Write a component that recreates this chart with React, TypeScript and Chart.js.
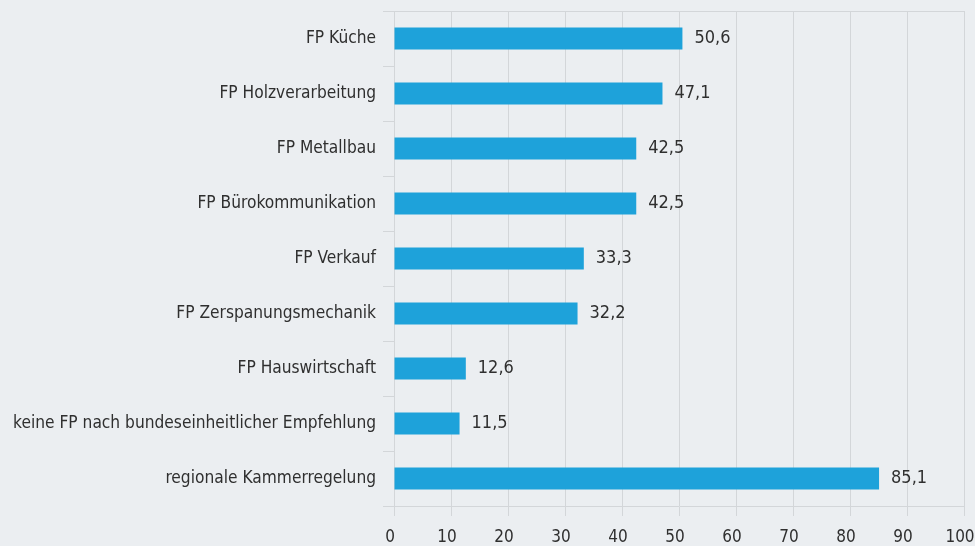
import React, { useEffect, useRef } from "react";
import { Chart, registerables } from "chart.js";

Chart.register(...registerables);

const categories = [
  "FP Küche",
  "FP Holzverarbeitung",
  "FP Metallbau",
  "FP Bürokommunikation",
  "FP Verkauf",
  "FP Zerspanungsmechanik",
  "FP Hauswirtschaft",
  "keine FP nach bundeseinheitlicher Empfehlung",
  "regionale Kammerregelung",
];
const values = [50.6, 47.1, 42.5, 42.5, 33.3, 32.2, 12.6, 11.5, 85.1];
const xTicks = [0, 10, 20, 30, 40, 50, 60, 70, 80, 90, 100];

const FONT = "'DejaVu Sans Condensed', 'Liberation Sans', sans-serif";
const TEXT = "#2f2f2f";
const GRID = "#d3d6d9";
const BG = "#ebeef1";
const BAR = "#1ea2da";

const valueLabels = {
  id: "valueLabels",
  afterDatasetsDraw(chart: any) {
    const { ctx } = chart;
    const meta = chart.getDatasetMeta(0);
    ctx.save();
    ctx.font = `18px ${FONT}`;
    ctx.fillStyle = TEXT;
    ctx.textAlign = "left";
    ctx.textBaseline = "middle";
    meta.data.forEach((el: any, i: number) => {
      const v = values[i];
      ctx.fillText(v.toFixed(1).replace(".", ","), el.x + 12, el.y);
    });
    ctx.restore();
  },
};

export default function App() {
  const ref = useRef<HTMLCanvasElement | null>(null);
  useEffect(() => {
    document.body.style.margin = "0";
    const chart = new Chart(ref.current as HTMLCanvasElement, {
      type: "bar",
      data: {
        labels: categories,
        datasets: [
          {
            data: values,
            backgroundColor: BAR,
            borderWidth: 0,
            barPercentage: 0.4,
            categoryPercentage: 1,
          },
        ],
      },
      options: {
        indexAxis: "y",
        animation: false,
        responsive: false,
        maintainAspectRatio: false,
        layout: { padding: { top: 11, right: 11, bottom: 0, left: 0 } },
        plugins: { legend: { display: false }, tooltip: { enabled: false } },
        scales: {
          x: {
            min: 0,
            max: 100,
            afterBuildTicks: (s: any) => {
              s.ticks = xTicks.map((v) => ({ value: v }));
            },
            afterFit: (s: any) => {
              s.height = 40;
              s.paddingLeft = 0;
              s.paddingRight = 0;
            },
            grid: { color: GRID, lineWidth: 1, tickLength: 10, tickColor: GRID },
            border: { color: GRID, width: 1 },
            ticks: {
              color: TEXT,
              font: { family: FONT, size: 17 },
              padding: 11,
              labelOffset: -4,
              maxRotation: 0,
            },
          },
          y: {
            afterFit: (s: any) => {
              s.width = 394;
              s.paddingTop = 0;
              s.paddingBottom = 0;
            },
            grid: {
              offset: true,
              color: (c: any) =>
                c.index === 0 || c.index === categories.length ? GRID : "rgba(0,0,0,0)",
              tickColor: GRID,
              tickLength: 11,
            },
            border: { display: false },
            ticks: {
              color: TEXT,
              font: { family: FONT, size: 17.2 },
              padding: 7,
            },
          },
        },
      },
      plugins: [valueLabels],
    });
    return () => chart.destroy();
  }, []);
  return (
    <div style={{ position: "fixed", left: 0, top: 0, width: 975, height: 546, background: BG }}>
      <canvas ref={ref} width={975} height={546} style={{ display: "block" }} />
    </div>
  );
}
